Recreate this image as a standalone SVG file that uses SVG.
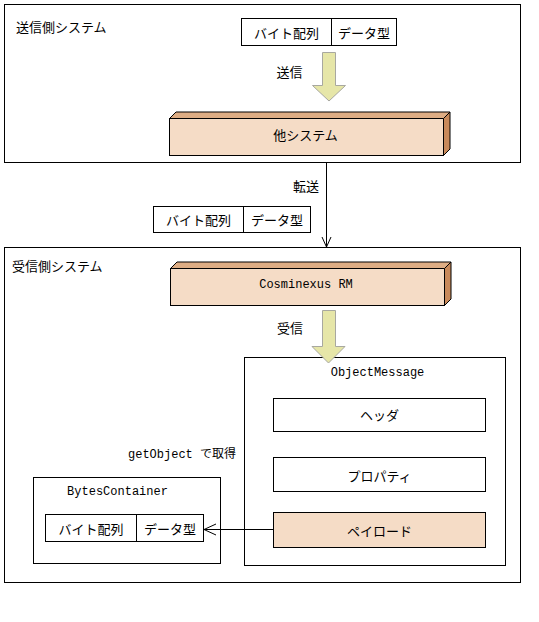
<svg xmlns="http://www.w3.org/2000/svg" width="539" height="622" viewBox="0 0 539 622">
<style>
.frame{fill:#fff;stroke:#000;stroke-width:1}
.box{fill:#fff;stroke:#000;stroke-width:1}
.peach{fill:#F5DCC6;stroke:#000;stroke-width:1}
.top{fill:#DEAD84;stroke:#000;stroke-width:1}
.side{fill:#C8895A;stroke:#000;stroke-width:1}
.yarrow{fill:#E6E6A8;stroke:#A8A8A0;stroke-width:1}
.jp{font-family:"Noto Sans CJK JP","Liberation Sans",sans-serif;font-size:13px;fill:#000;dominant-baseline:central}
.mono{font-family:"Liberation Mono","Noto Sans CJK JP",monospace;font-size:12px;fill:#000;dominant-baseline:central}
.mid{text-anchor:middle}
.ln{fill:none;stroke:#000;stroke-width:1}
</style>
<rect width="539" height="622" fill="#fff"/>

<g id="sender-system">
<rect class="frame" x="4.5" y="4.5" width="516" height="158"/>
<text class="jp" x="16" y="26">送信側システム</text>
</g>

<g id="receiver-system">
<rect class="frame" x="4.5" y="247.5" width="516" height="335"/>
<text class="jp" x="12" y="265">受信側システム</text>
</g>

<g id="sender-data">
<rect class="box" x="241.5" y="18.5" width="90" height="27"/>
<rect class="box" x="331.5" y="18.5" width="65" height="27"/>
<text class="jp mid" x="286.5" y="32">バイト配列</text>
<text class="jp mid" x="364" y="32">データ型</text>
</g>

<g id="send-arrow">
<polygon class="yarrow" points="322.5,52.5 335.5,52.5 335.5,85.5 345.5,85.5 329,101 312.5,85.5 322.5,85.5"/>
<text class="jp mid" x="289.5" y="71">送信</text>
</g>

<g id="other-system">
<rect class="peach" x="169.5" y="118.5" width="274" height="37"/>
<polygon class="top" points="169.5,118.5 176,112 450,112 443.5,118.5"/>
<polygon class="side" points="443.5,118.5 450,112 450,149 443.5,155.5"/>
<text class="jp mid" x="305.5" y="134">他システム</text>
</g>

<g id="transfer-data">
<rect class="box" x="153.5" y="206.5" width="90" height="26"/>
<rect class="box" x="243.5" y="206.5" width="67" height="26"/>
<text class="jp mid" x="198.5" y="219.5">バイト配列</text>
<text class="jp mid" x="277" y="219.5">データ型</text>
</g>

<g id="cosminexus-rm">
<rect class="peach" x="170.5" y="268.5" width="274" height="37"/>
<polygon class="top" points="170.5,268.5 177,262 451,262 444.5,268.5"/>
<polygon class="side" points="444.5,268.5 451,262 451,299 444.5,305.5"/>
<text class="mono mid" x="306" y="285">Cosminexus RM</text>
</g>

<g id="object-message">
<rect class="box" x="244.5" y="357.5" width="261" height="208"/>
<text class="mono mid" x="377.5" y="372.5">ObjectMessage</text>
<rect class="box" x="273.5" y="398.5" width="212" height="33"/>
<text class="jp mid" x="379.5" y="414">ヘッダ</text>
<rect class="box" x="273.5" y="457.5" width="212" height="34"/>
<text class="jp mid" x="379.5" y="475">プロパティ</text>
<rect class="peach" x="273.5" y="512.5" width="212" height="35"/>
<text class="jp mid" x="379.5" y="530">ペイロード</text>
</g>

<g id="receive-arrow">
<polygon class="yarrow" points="322.5,310.5 335.5,310.5 335.5,346.5 345,346.5 328.5,363 312,346.5 322.5,346.5"/>
<text class="jp mid" x="290" y="327">受信</text>
</g>

<g id="bytes-container">
<rect class="box" x="33.5" y="477.5" width="187" height="86"/>
<text class="mono mid" x="117.5" y="492">BytesContainer</text>
<rect class="box" x="45.5" y="514.5" width="91" height="27"/>
<rect class="box" x="136.5" y="514.5" width="67" height="27"/>
<text class="jp mid" x="91" y="528">バイト配列</text>
<text class="jp mid" x="170" y="528">データ型</text>
</g>

<g id="connectors">
<line class="ln" x1="326.5" y1="163" x2="326.5" y2="247"/>
<polyline class="ln" points="322,237 326.5,247 331,237"/>
<text class="jp mid" x="306" y="185">転送</text>
<line class="ln" x1="273" y1="529.5" x2="204" y2="529.5"/>
<polyline class="ln" points="216,524 204,529.5 216,535"/>
<text class="mono" x="128" y="455">getObject で取得</text>
</g>
</svg>
